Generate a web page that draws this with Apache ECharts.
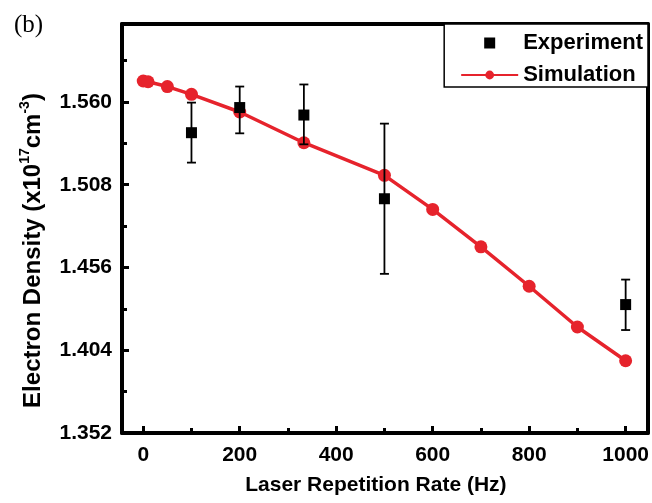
<!DOCTYPE html>
<html><head><meta charset="utf-8">
<script src="https://cdn.jsdelivr.net/npm/echarts@6/dist/echarts.min.js"></script>
<style>html,body{margin:0;padding:0;background:#fff}#c{width:652px;height:503px}</style>
</head><body><div id="c"></div>
<script>
const simRate = [0, 10, 50, 100, 200, 333, 500, 600, 700, 800, 900, 1000];
const simDensity = [1.5732, 1.5727, 1.5697, 1.5648, 1.5537, 1.5344, 1.5139, 1.4925, 1.4690, 1.4442, 1.4186, 1.3974];
const expRate = [100, 200, 333, 500, 1000];
const expDensity = [1.5407, 1.5565, 1.5518, 1.4992, 1.4327];
const expLow = [1.5219, 1.5403, 1.5334, 1.4520, 1.4167];
const expHigh = [1.5596, 1.5697, 1.5710, 1.5464, 1.4484];
const xMajorTicks = [0, 200, 400, 600, 800, 1000];
const xMinorTicks = [100, 300, 500, 700, 900];
const yMajorTicks = [1.352, 1.404, 1.456, 1.508, 1.560];
const yMinorTicks = [1.378, 1.430, 1.482, 1.534, 1.586];

const FONT = "'Liberation Sans', Arial, sans-serif";
const RED = '#e6232c';
const XMIN = -44, XMAX = 1046, YMIN = 1.352, YMAX = 1.609;
const lineW = 4;

const chart = echarts.init(document.getElementById('c'), null, {renderer: 'canvas'});
const labelStyle = {fontFamily: FONT, fontWeight: 'bold', fontSize: 21, color: '#000'};

chart.setOption({
  animation: false,
  backgroundColor: '#fff',
  title: {
    text: '(b)', left: 9, top: 8,
    textStyle: {fontFamily: "'Liberation Serif', 'Times New Roman', serif", fontWeight: 'normal', fontSize: 25, color: '#000'}
  },
  grid: {left: 122, right: 4, top: 24, bottom: 70, containLabel: false},
  legend: {
    orient: 'vertical', right: 4, top: 24,
    padding: [8, 5, 1, 16], itemGap: 10,
    itemWidth: 57, itemHeight: 11,
    borderColor: '#000', borderWidth: 1.5, backgroundColor: '#fff',
    textStyle: {fontFamily: FONT, fontWeight: 'bold', fontSize: 22, color: '#000'},
    data: [
      {name: 'Experiment', icon: 'path://M0,0L10,0L10,10L0,10Z'},
      {name: 'Simulation'}
    ]
  },
  xAxis: [
    {
      type: 'value', position: 'bottom', min: XMIN, max: XMAX,
      axisLine: {show: true, onZero: false, lineStyle: {color: '#000', width: lineW}},
      axisTick: {show: true, inside: true, length: 7, customValues: xMajorTicks, lineStyle: {color: '#000', width: 3}},
      axisLabel: Object.assign({customValues: xMajorTicks, margin: 12, formatter: v => String(v)}, labelStyle),
      splitLine: {show: false},
      name: 'Laser Repetition Rate (Hz)', nameLocation: 'middle', nameGap: 42,
      nameTextStyle: {fontFamily: FONT, fontWeight: 'bold', fontSize: 21, color: '#000', padding: [0, 18, 0, 0]}
    },
    {
      type: 'value', position: 'bottom', min: XMIN, max: XMAX,
      axisLine: {show: false, onZero: false},
      axisTick: {show: true, inside: true, length: 5, customValues: xMinorTicks, lineStyle: {color: '#000', width: 3}},
      axisLabel: {show: false}, splitLine: {show: false}
    },
    {
      type: 'value', position: 'top', min: XMIN, max: XMAX,
      axisLine: {show: true, onZero: false, lineStyle: {color: '#000', width: lineW}},
      axisTick: {show: false}, axisLabel: {show: false}, splitLine: {show: false}
    }
  ],
  yAxis: [
    {
      type: 'value', position: 'left', min: YMIN, max: YMAX,
      axisLine: {show: true, onZero: false, lineStyle: {color: '#000', width: lineW}},
      axisTick: {show: true, inside: true, length: 7, customValues: yMajorTicks, lineStyle: {color: '#000', width: 3}},
      axisLabel: Object.assign({customValues: yMajorTicks, margin: 10, formatter: v => v.toFixed(3)}, labelStyle),
      splitLine: {show: false},
      name: '{m|Electron Density (x10}{s|17}{m|cm}{s|-3}{m|)}',
      nameLocation: 'middle', nameGap: 73,
      nameTextStyle: {
        padding: [0, 44, 0, 0],
        rich: {
          m: {fontFamily: FONT, fontWeight: 'bold', fontSize: 24, lineHeight: 31, color: '#000'},
          s: {fontFamily: FONT, fontWeight: 'bold', fontSize: 14, lineHeight: 14, verticalAlign: 'top', color: '#000'}
        }
      }
    },
    {
      type: 'value', position: 'left', min: YMIN, max: YMAX,
      axisLine: {show: false, onZero: false},
      axisTick: {show: true, inside: true, length: 5, customValues: yMinorTicks, lineStyle: {color: '#000', width: 3}},
      axisLabel: {show: false}, splitLine: {show: false}
    },
    {
      type: 'value', position: 'right', min: YMIN, max: YMAX,
      axisLine: {show: true, onZero: false, lineStyle: {color: '#000', width: lineW}},
      axisTick: {show: false}, axisLabel: {show: false}, splitLine: {show: false}
    }
  ],
  series: [
    {
      name: 'Simulation', type: 'line', xAxisIndex: 0, yAxisIndex: 0,
      data: simRate.map((x, i) => [x, simDensity[i]]),
      symbol: 'circle', symbolSize: 13,
      lineStyle: {color: RED, width: 3.5},
      itemStyle: {color: RED, opacity: 1},
      z: 2
    },
    {
      name: 'errorbars', type: 'custom', xAxisIndex: 0, yAxisIndex: 0,
      data: expRate.map((x, i) => [x, expLow[i], expHigh[i]]),
      renderItem: function (params, api) {
        const lo = api.coord([api.value(0), api.value(1)]);
        const hi = api.coord([api.value(0), api.value(2)]);
        const w = 4.5;
        const st = {stroke: '#000', lineWidth: 1.8};
        return {
          type: 'group',
          children: [
            {type: 'line', shape: {x1: lo[0], y1: lo[1], x2: hi[0], y2: hi[1]}, style: st},
            {type: 'line', shape: {x1: lo[0] - w, y1: lo[1], x2: lo[0] + w, y2: lo[1]}, style: st},
            {type: 'line', shape: {x1: hi[0] - w, y1: hi[1], x2: hi[0] + w, y2: hi[1]}, style: st}
          ]
        };
      },
      z: 3
    },
    {
      name: 'Experiment', type: 'scatter', xAxisIndex: 0, yAxisIndex: 0,
      data: expRate.map((x, i) => [x, expDensity[i]]),
      symbol: 'rect', symbolSize: 11,
      itemStyle: {color: '#000', opacity: 1},
      z: 4
    }
  ]
});
</script>
</body></html>
